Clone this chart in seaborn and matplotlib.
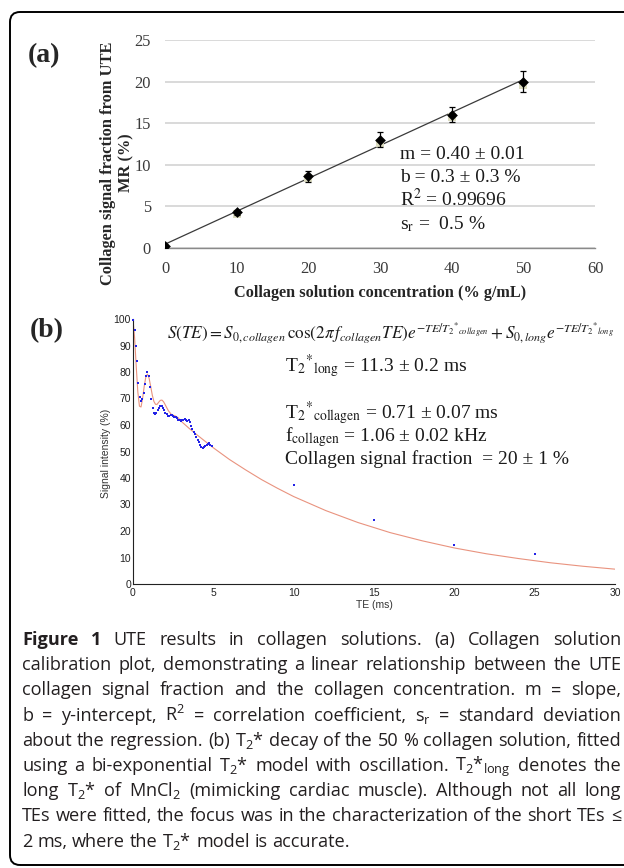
import numpy as np
import pandas as pd
import matplotlib
matplotlib.use("Agg")
import matplotlib.pyplot as plt
import seaborn as sns
from matplotlib.patches import FancyBboxPatch
from matplotlib.ticker import MultipleLocator, FixedLocator
from matplotlib.transforms import IdentityTransform

PM = "\u00b1"

# ---------------- data : panel (a) ----------------
conc = [0, 10, 20, 30, 40, 50]
fraction = [0.2, 4.3, 8.6, 13.0, 16.0, 20.0]
fraction_err = [0.2, 0.3, 0.7, 0.9, 0.9, 1.3]
fraction_faint = [0.0, 4.1, 8.4, 12.6, 15.7, 19.6]
a_xticks = [0, 10, 20, 30, 40, 50, 60]
a_yticks = [0, 5, 10, 15, 20, 25]
a_stats = ["m = 0.40 " + PM + " 0.01", "b = 0.3 " + PM + " 0.3 %",
           r"R$^\mathrm{2}$ = 0.99696", r"s$_\mathrm{r}$ =  0.5 %"]

# ---------------- data : panel (b) ----------------
te_meas = [0.02, 0.10, 0.18, 0.26, 0.34, 0.42, 0.50, 0.58, 0.66, 0.74, 0.82, 0.90,
           0.98, 1.06, 1.14, 1.22, 1.30, 1.38, 1.46, 1.54, 1.62, 1.70, 1.78, 1.86,
           1.94, 2.02, 2.10, 2.18, 2.26, 2.34, 2.42, 2.50, 2.58, 2.66, 2.74, 2.82,
           2.90, 2.98, 3.06, 3.14, 3.22, 3.30, 3.38, 3.46, 3.54, 3.62, 3.70, 3.78,
           3.86, 3.94, 4.02, 4.10, 4.18, 4.26, 4.34, 4.42, 4.50, 4.58, 4.66, 4.74,
           4.82, 4.90, 10, 15, 20, 25]
sig_meas = [99.5, 96, 90, 84, 76, 70.5, 69, 70, 72, 75.5, 78.5, 80,
            78.5, 74.5, 70, 66.5, 64.5, 64, 64.5, 65.5, 66.5, 67.2, 67, 66.5,
            65.5, 64.5, 64, 63.5, 63.4, 63.8, 63.9, 63.5, 63.2, 63, 62.6, 62,
            61.8, 61.6, 61.8, 62, 62.2, 62, 61.6, 61.8, 61, 59.8, 58.5, 57.5,
            56.5, 55.5, 54.5, 53.5, 52.5, 51.8, 51.5, 51.6, 52, 52.5, 53, 53.2,
            52.5, 52, 37.5, 24.2, 14.7, 11.2]
te_fit = [0, 0.1, 0.2, 0.3, 0.4, 0.5, 0.6, 0.7, 0.8, 0.9, 1.0, 1.1, 1.2, 1.3, 1.4,
          1.5, 1.6, 1.7, 1.8, 1.9, 2.0, 2.2, 2.4, 2.6, 2.8, 3.0, 3.5, 4, 5, 6, 7,
          8, 9, 10, 12, 14, 16, 18, 20, 22, 24, 26, 28, 30]
sig_fit = [100, 92.9, 82.2, 72.5, 67.1, 66.8, 70.1, 74.7, 78.2, 79.2, 77.7, 74.6,
           71.3, 68.9, 67.8, 67.8, 68.6, 69.3, 69.4, 68.8, 67.7, 65.4, 63.9, 63.5,
           62.8, 61.4, 58.7, 56.2, 51.4, 47.0, 43.1, 39.4, 36.1, 33.0, 27.7, 23.2,
           19.4, 16.3, 13.6, 11.4, 9.6, 8.0, 6.7, 5.6]
b_xticks = [0, 5, 10, 15, 20, 25, 30]
b_yticks = [0, 10, 20, 30, 40, 50, 60, 70, 80, 90, 100]

formula = (r"$S(TE) = S_{0,collagen}\,\cos(2\pi\, f_{collagen}TE)"
           r"e^{-TE/T_2{}^{*}{}_{collagen}} + S_{0,long}e^{-TE/T_2{}^{*}{}_{long}}$")
b_stats = [(r"T$_\mathrm{2}{}^\mathrm{*}{}_\mathrm{long}$" + " = 11.3 " + PM + " 0.2 ms", 371),
           (r"T$_\mathrm{2}{}^\mathrm{*}{}_\mathrm{collagen}$" + " = 0.71 " + PM + " 0.07 ms", 418),
           (r"f$_\mathrm{collagen}$" + " = 1.06 " + PM + " 0.02 kHz", 441),
           ("Collagen signal fraction  = 20 " + PM + " 1 %", 464)]

caption = [
    "Figure 1 UTE results in collagen solutions. (a) Collagen solution",
    "calibration plot, demonstrating a linear relationship between the UTE",
    "collagen signal fraction and the collagen concentration. m = slope,",
    r"b = y-intercept, R$^\mathrm{2}$ = correlation coefficient, s$_\mathrm{r}$ = standard deviation",
    r"about the regression. (b) T$_\mathrm{2}$* decay of the 50 % collagen solution, fitted",
    r"using a bi-exponential T$_\mathrm{2}$* model with oscillation. T$_\mathrm{2}$*$_\mathrm{long}$ denotes the",
    r"long T$_\mathrm{2}$* of MnCl$_\mathrm{2}$ (mimicking cardiac muscle). Although not all long",
    "TEs were fitted, the focus was in the characterization of the short TEs \u2264",
    r"2 ms, where the T$_\mathrm{2}$* model is accurate.",
]

# ---------------- style ----------------
sns.set_style("white")
plt.rcParams["font.family"] = ["Liberation Serif", "DejaVu Serif"]
plt.rcParams["mathtext.fontset"] = "custom"
plt.rcParams["mathtext.rm"] = "Open Sans"
plt.rcParams["mathtext.it"] = "Open Sans:italic"
plt.rcParams["mathtext.bf"] = "Open Sans:bold"

W, H = 624, 868
fig = plt.figure(figsize=(W / 100, H / 100), dpi=100)
fig.patch.set_facecolor("white")


def X(px):
    return px / W


def Y(py):
    return 1 - py / H


SERIF = ["Liberation Serif", "DejaVu Serif"]
SANS = ["Liberation Sans", "DejaVu Sans"]
CAP = ["Open Sans", "DejaVu Sans"]

# frame
box = FancyBboxPatch((10, 3), 640, 853, boxstyle="round,pad=0,rounding_size=10",
                     transform=IdentityTransform(), fill=False, ec="black", lw=1.4)
fig.patches.append(box)

# ---------------- panel (a) ----------------
ax_a = fig.add_axes([X(165), Y(248), (595 - 165) / W, (248 - 40) / H])
ax_a.set_xlim(0, 60)
ax_a.set_ylim(0, 25)
ax_a.set_axisbelow(True)
ax_a.yaxis.grid(True, color="#d0d0d0", lw=1.1)
ax_a.xaxis.grid(False)
for s in ["left", "right", "top"]:
    ax_a.spines[s].set_visible(False)
ax_a.spines["bottom"].set_color("#8a8a8a")
ax_a.spines["bottom"].set_linewidth(1.0)
ax_a.set_xticks(a_xticks)
ax_a.set_yticks(a_yticks)
ax_a.tick_params(axis="x", direction="out", length=3.5, width=1.0, color="#8a8a8a",
                 pad=6, labelsize=11.8, labelcolor="#3a3a3a")
ax_a.tick_params(axis="y", length=0, pad=10, labelsize=11.8, labelcolor="#3a3a3a")
for lab in ax_a.get_xticklabels() + ax_a.get_yticklabels():
    lab.set_family(SERIF)

sns.regplot(x=conc, y=fraction, scatter=False, ci=None, truncate=True, ax=ax_a,
            line_kws=dict(color="#3a3a3a", lw=0.9, zorder=2))
sns.scatterplot(x=conc, y=fraction_faint, marker="s", s=26, color="#dcdcc0",
                linewidth=0, ax=ax_a, zorder=3)
ax_a.errorbar(conc, fraction, yerr=fraction_err, fmt="none", ecolor="black",
              elinewidth=0.9, capsize=2.5, capthick=0.9, zorder=4)
sns.scatterplot(x=conc, y=fraction, marker="D", s=30, color="black", linewidth=0,
                ax=ax_a, zorder=5)
ax_a.set_xlabel("")
ax_a.set_ylabel("")

fig.text(X(117), Y(163), "Collagen signal fraction from UTE\nMR (%)", rotation=90,
         ha="center", va="center", ma="center", fontsize=11.8, fontweight="bold",
         family=SERIF, color="#262626", linespacing=1.15)
fig.text(X(380), Y(293), "Collagen solution concentration (% g/mL)", ha="center",
         va="center", fontsize=11.7, fontweight="bold", family=SERIF, color="#262626")
for i, s in enumerate(a_stats):
    fig.text(X(400), Y(159 + i * 23.3), s, ha="left", va="baseline", fontsize=14,
             family=SERIF, math_fontfamily="stix", color="#1a1a1a")
fig.text(X(28), Y(56), "(a)", ha="left", va="center", fontsize=20, fontweight="bold",
         family=SERIF)

# ---------------- panel (b) ----------------
ax_b = fig.add_axes([X(133), Y(584), (615 - 133) / W, (584 - 319) / H])
ax_b.set_xlim(0, 30)
ax_b.set_ylim(0, 100)
for s in ["right", "top"]:
    ax_b.spines[s].set_visible(False)
for s in ["left", "bottom"]:
    ax_b.spines[s].set_color("#222222")
    ax_b.spines[s].set_linewidth(0.8)
ax_b.xaxis.set_major_locator(FixedLocator(b_xticks))
ax_b.yaxis.set_major_locator(FixedLocator(b_yticks))
ax_b.xaxis.set_minor_locator(MultipleLocator(1))
ax_b.yaxis.set_minor_locator(MultipleLocator(5))
ax_b.tick_params(which="major", direction="in", length=3, width=0.7, color="#222222",
                 labelsize=7.5, labelcolor="#222222")
ax_b.tick_params(which="minor", direction="in", length=1.8, width=0.6, color="#222222")
ax_b.tick_params(axis="x", pad=3)
ax_b.tick_params(axis="y", pad=1.5)
for lab in ax_b.get_xticklabels() + ax_b.get_yticklabels():
    lab.set_family(SANS)

sns.lineplot(x=te_fit, y=sig_fit, color="#e9937f", lw=0.8, ax=ax_b, zorder=2)
sns.scatterplot(x=te_meas, y=sig_meas, marker="s", s=3.2, color="#2323e6", linewidth=0,
                ax=ax_b, zorder=3, clip_on=False)
ax_b.set_xlabel("")
ax_b.set_ylabel("")

fig.text(X(106), Y(453), "Signal intensity (%)", rotation=90, ha="center", va="center",
         fontsize=7.5, family=SANS, color="#333333")
fig.text(X(374), Y(605), "TE (ms)", ha="center", va="center", fontsize=7.5,
         family=SANS, color="#333333")
fig.text(X(167), Y(338), formula, ha="left", va="baseline", fontsize=12.3,
         math_fontfamily="stix", color="#1a1a1a")
for s, yb in b_stats:
    fig.text(X(285), Y(yb), s, ha="left", va="baseline", fontsize=14, family=SERIF,
             math_fontfamily="stix", color="#1a1a1a")
fig.text(X(30), Y(331), "(b)", ha="left", va="center", fontsize=20, fontweight="bold",
         family=SERIF)

# ---------------- caption (justified) ----------------
renderer = fig.canvas.get_renderer()
CAP_FS = 13.1
x_left, x_right = 22, 621
y0, dy = 645, 25.2

probe1 = fig.text(0, 0, "a a", fontsize=CAP_FS, family=CAP)
probe2 = fig.text(0, 0, "aa", fontsize=CAP_FS, family=CAP)
space_w = (probe1.get_window_extent(renderer).width
           - probe2.get_window_extent(renderer).width)
probe1.remove()
probe2.remove()

for li, line in enumerate(caption):
    words = line.split(" ")
    texts = []
    widths = []
    for wi, w in enumerate(words):
        bold = (li == 0 and wi < 2)
        t = fig.text(0, Y(y0 + li * dy), w, fontsize=CAP_FS, family=CAP,
                     fontweight="bold" if bold else "normal", va="baseline",
                     ha="left", color="#231f20")
        texts.append(t)
        widths.append(t.get_window_extent(renderer).width)
    if li < len(caption) - 1 and len(words) > 1:
        gap = (x_right - x_left - sum(widths)) / (len(words) - 1)
    else:
        gap = space_w
    x = x_left
    for t, wd in zip(texts, widths):
        t.set_x(X(x))
        x += wd + gap

fig.savefig("out.png", dpi=100, facecolor="white")
